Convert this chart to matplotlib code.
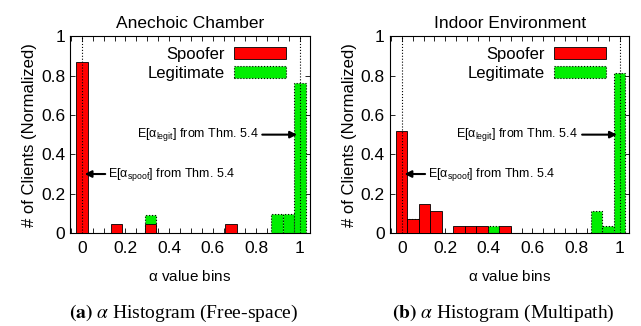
import numpy as np
import matplotlib.pyplot as plt
from matplotlib.ticker import MultipleLocator

# bin index k -> alpha = k/19
nbins = 19

# Anechoic chamber (free-space)
a_spoof_bins = [0, 3, 6, 13]
a_spoof_vals = [0.867, 0.046, 0.046, 0.046]
a_legit_bins = [6, 17, 18, 19]
a_legit_vals = [0.091, 0.096, 0.096, 0.76]

# Indoor environment (multipath)
b_spoof_bins = [0, 1, 2, 3, 5, 6, 7, 9]
b_spoof_vals = [0.518, 0.074, 0.148, 0.111, 0.037, 0.037, 0.037, 0.037]
b_legit_bins = [1, 8, 17, 18, 19]
b_legit_vals = [0.074, 0.037, 0.113, 0.037, 0.814]

titles = ['Anechoic Chamber', 'Indoor Environment']
captions = [r'$\mathbf{(a)}$ $\alpha$ Histogram (Free-space)',
            r'$\mathbf{(b)}$ $\alpha$ Histogram (Multipath)']
ticks = [0, 0.2, 0.4, 0.6, 0.8, 1]
tick_labels = ['0', '0.2', '0.4', '0.6', '0.8', '1']

plt.rcParams['font.family'] = ['Liberation Sans', 'DejaVu Sans']
plt.rcParams['mathtext.fontset'] = 'custom'
plt.rcParams['mathtext.rm'] = 'Liberation Sans'
plt.rcParams['mathtext.it'] = 'Liberation Sans'

fig = plt.figure(figsize=(6.41, 3.26), dpi=100)
w = 1.0 / nbins

panels = [(a_spoof_bins, a_spoof_vals, a_legit_bins, a_legit_vals),
          (b_spoof_bins, b_spoof_vals, b_legit_bins, b_legit_vals)]
lefts = [0.109, 0.608]

for i, (sb, sv, lb, lv) in enumerate(panels):
    ax = fig.add_axes([lefts[i], 0.285, 0.374, 0.604])
    lx = np.array(lb) / nbins
    sx = np.array(sb) / nbins
    ax.bar(lx, lv, width=w, color='#00ee00', edgecolor='black',
           linestyle=':', linewidth=0.8, label='Legitimate', zorder=2)
    ax.bar(sx, sv, width=w, color='#ff0000', edgecolor='black',
           linewidth=0.6, label='Spoofer', zorder=3)
    ax.axvline(0, color='black', ls=':', lw=0.8, zorder=4)
    ax.axvline(1, color='black', ls=':', lw=0.8, zorder=4)

    ax.annotate('', xy=(1.0, 0.5), xytext=(0.815, 0.5),
                arrowprops=dict(arrowstyle='-|>', color='black', lw=1.5,
                                mutation_scale=10), zorder=5)
    ax.text(0.81, 0.5, r'E[$\alpha_{legit}$] from Thm. 5.4', fontsize=9,
            ha='right', va='center', zorder=5)
    ax.annotate('', xy=(0.0, 0.3), xytext=(0.12, 0.3),
                arrowprops=dict(arrowstyle='-|>', color='black', lw=1.5,
                                mutation_scale=10), zorder=5)
    ax.text(0.12, 0.3, r'E[$\alpha_{spoof}$] from Thm. 5.4', fontsize=9,
            ha='left', va='center', zorder=5)

    ax.set_xlim(-0.055, 1.045)
    ax.set_ylim(0, 1)
    ax.xaxis.set_minor_locator(MultipleLocator(0.05))
    ax.set_xticks(ticks)
    ax.set_xticklabels(tick_labels)
    ax.set_yticks(ticks)
    ax.set_yticklabels(tick_labels)
    ax.tick_params(which='both', direction='in', top=True, right=True,
                   labelsize=12.5, width=0.6, length=3.5)
    ax.tick_params(axis='x', pad=6)
    for s in ax.spines.values():
        s.set_linewidth(0.8)

    ax.set_title(titles[i], fontsize=12.5, pad=6)
    ax.set_xlabel(r'$\alpha$ value bins', fontsize=11, labelpad=9)
    ax.set_ylabel('# of Clients (Normalized)', fontsize=12, labelpad=3)

    h, l = ax.get_legend_handles_labels()
    ax.legend(h[::-1], l[::-1], loc='upper right', fontsize=12,
              frameon=False, markerfirst=False, handlelength=3.1,
              handleheight=0.7, borderaxespad=0.1, labelspacing=0.25,
              handletextpad=0.6, borderpad=0.3, bbox_to_anchor=(0.93, 0.98))

    fig.text(lefts[i] + 0.374 / 2 - 0.01, 0.04, captions[i],
             fontsize=14, ha='center', va='center',
             family='Liberation Serif',
             math_fontfamily='stix')

fig.savefig('out.png', dpi=100)
